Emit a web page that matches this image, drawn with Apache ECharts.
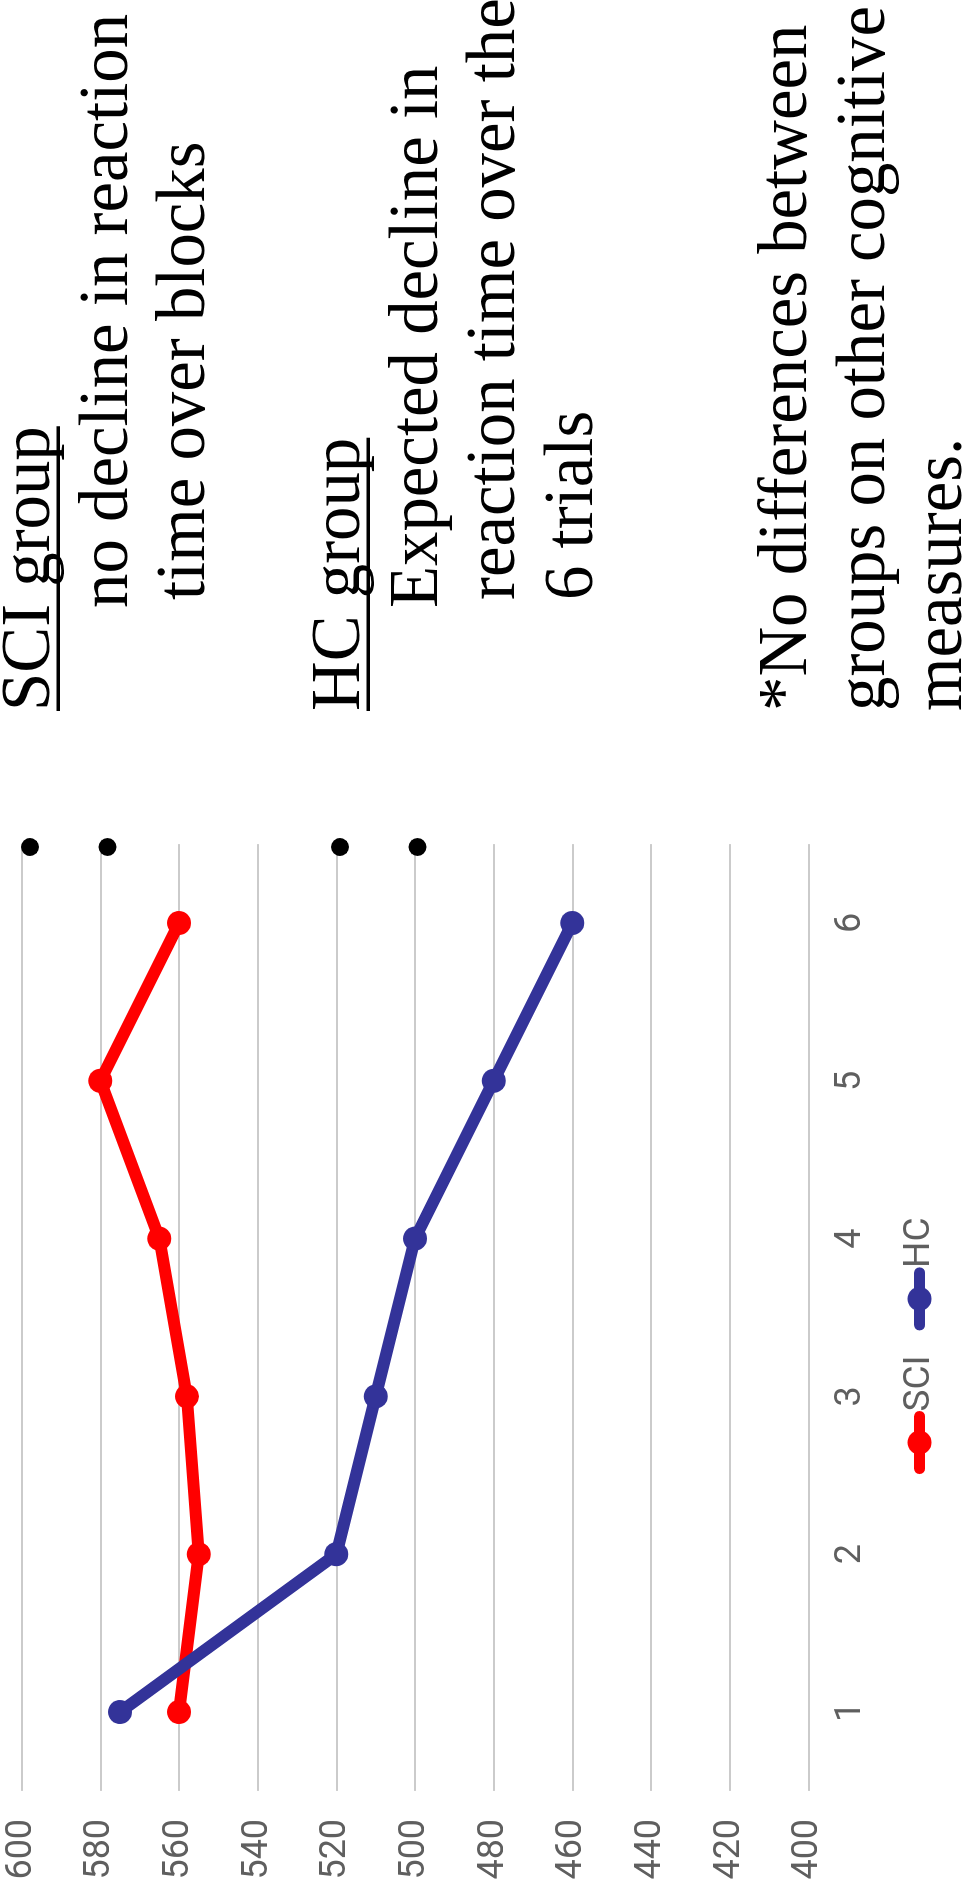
<!DOCTYPE html>
<html>
<head>
<meta charset="utf-8">
<script src="https://cdn.jsdelivr.net/npm/echarts@6/dist/echarts.min.js"></script>
<style>
  html, body { margin: 0; padding: 0; background: #ffffff; width: 967px; height: 1883px; overflow: hidden; }
  /* The slide is laid out landscape and turned a quarter-turn counter-clockwise onto the page. */
  #slide {
    position: absolute; left: 0; top: 0;
    width: 1883px; height: 967px;
    transform-origin: 0 0;
    transform: translateY(1883px) rotate(-90deg);
    background: #ffffff;
  }
</style>
</head>
<body>
<div id="slide"></div>
<script>
// ---- data ----
const blocks = ['1', '2', '3', '4', '5', '6'];
const sciTimes = [560, 555, 558, 565, 580, 560];
const hcTimes = [575, 520, 510, 500, 480, 460];
const seriesNames = ['SCI', 'HC'];
const timeMin = 400;
const timeMax = 600;
const timeStep = 20;

// ---- slide notes (text, paragraph role) ----
const groupNotes = [
  { text: 'SCI group', role: 'head', underline: true, bullet: true },
  { text: 'no decline in reaction', role: 'first', bullet: true },
  { text: 'time over blocks', role: 'cont' },
  null,
  { text: 'HC group', role: 'head', underline: true, bullet: true },
  { text: 'Expected decline in', role: 'first', bullet: true },
  { text: 'reaction time over the', role: 'cont' },
  { text: '6 trials', role: 'cont' }
];
const footNotes = [
  { text: '*No differences between', role: 'head' },
  { text: 'groups on other cognitive', role: 'head' },
  { text: 'measures.', role: 'head' }
];

// ---- styling ----
const RED = '#ff0000';
const BLUE = '#333399';
const LABEL_GRAY = '#5f5f5f';
const GRID_GRAY = '#cbcbcb';
const NOTE_FONT = 'Liberation Serif';
const NOTE_SIZE = 68.8;
const LINE_PITCH = 77.5;
const TEXT_X = { head: 1172, first: 1275, cont: 1283 };
const BULLET_X = 1036;

const measureCtx = document.createElement('canvas').getContext('2d');
measureCtx.font = NOTE_SIZE + 'px "' + NOTE_FONT + '"';

function noteGraphics(lines, firstBaseline) {
  const out = [];
  lines.forEach(function (ln, i) {
    if (!ln) return;
    const baseline = firstBaseline + i * LINE_PITCH;
    const x = TEXT_X[ln.role];
    out.push({
      type: 'text', x: x, y: baseline - 22, z: 10,
      style: {
        text: ln.text, fontSize: NOTE_SIZE, fontFamily: NOTE_FONT,
        fill: '#000000', align: 'left', verticalAlign: 'middle'
      }
    });
    if (ln.underline) {
      const w = measureCtx.measureText(ln.text).width;
      out.push({
        type: 'rect', z: 10,
        shape: { x: x, y: baseline + 3.6, width: w, height: 3.4 },
        style: { fill: '#000000' }
      });
    }
    if (ln.bullet) {
      out.push({
        type: 'circle', z: 10,
        shape: { cx: BULLET_X, cy: baseline - 23, r: 9 },
        style: { fill: '#000000' }
      });
    }
  });
  return out;
}

const chart = echarts.init(document.getElementById('slide'), null, { renderer: 'canvas' });

chart.setOption({
  animation: false,
  backgroundColor: '#ffffff',
  textStyle: { fontFamily: 'Roboto' },
  grid: { left: 92.1, right: 844.1, top: 21.7, bottom: 158.7, containLabel: false },
  legend: {
    data: seriesNames,
    left: 409, top: 901, padding: 0,
    itemWidth: 52, itemHeight: 30, itemGap: 25,
    lineStyle: { width: 11, cap: 'round' },
    textStyle: { fontFamily: 'Roboto', fontSize: 37, color: LABEL_GRAY }
  },
  xAxis: {
    type: 'category',
    data: blocks,
    boundaryGap: true,
    axisLine: { show: false },
    axisTick: { show: false },
    axisLabel: { margin: 25, fontFamily: 'Roboto', fontSize: 36, color: LABEL_GRAY },
    splitLine: { show: false }
  },
  yAxis: {
    type: 'value',
    min: timeMin, max: timeMax, interval: timeStep,
    axisLine: { show: false },
    axisTick: { show: false },
    axisLabel: { margin: 28, fontFamily: 'Roboto', fontSize: 36, color: LABEL_GRAY },
    splitLine: { show: true, lineStyle: { color: GRID_GRAY, width: 2 } }
  },
  series: [
    {
      name: seriesNames[0], type: 'line', data: sciTimes,
      symbol: 'circle', symbolSize: 24, showSymbol: true,
      lineStyle: { color: RED, width: 12, cap: 'round', join: 'round' },
      itemStyle: { color: RED }
    },
    {
      name: seriesNames[1], type: 'line', data: hcTimes,
      symbol: 'circle', symbolSize: 24, showSymbol: true,
      lineStyle: { color: BLUE, width: 12, cap: 'round', join: 'round' },
      itemStyle: { color: BLUE }
    }
  ],
  graphic: noteGraphics(groupNotes, 53).concat(noteGraphics(footNotes, 810))
});
</script>
</body>
</html>
